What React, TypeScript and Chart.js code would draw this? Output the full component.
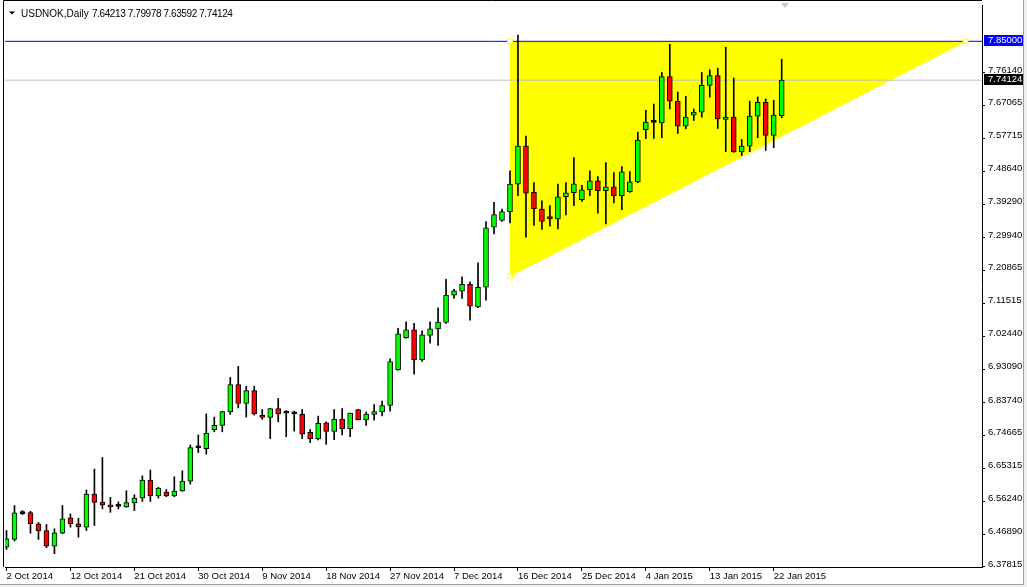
import { useEffect, useRef } from 'react';
import { Chart, registerables } from 'chart.js';

Chart.register(...registerables);

// ---- data ----
const symbolTitle = 'USDNOK,Daily';
const lastBarText = '7.64213 7.79978 7.63592 7.74124';

const tickIndex = [0, 8, 16, 24, 32, 40, 48, 56, 64, 72, 80, 88, 96];
const tickDates = [
  '2 Oct 2014', '12 Oct 2014', '21 Oct 2014', '30 Oct 2014', '9 Nov 2014', '18 Nov 2014',
  '27 Nov 2014', '7 Dec 2014', '16 Dec 2014', '25 Dec 2014', '4 Jan 2015', '13 Jan 2015', '22 Jan 2015',
];

const priceTicks = [
  7.7614, 7.67065, 7.57715, 7.4864, 7.3929, 7.2994, 7.20865, 7.11515,
  7.0244, 6.9309, 6.8374, 6.74665, 6.65315, 6.5624, 6.4689, 6.37815,
];

const opens = [
  6.4338, 6.4553, 6.5276, 6.5304, 6.4990, 6.4802, 6.4366, 6.4727, 6.5155, 6.4990,
  6.4895, 6.5824, 6.5600, 6.5519, 6.5476, 6.5463, 6.5575, 6.5712, 6.6214, 6.5768,
  6.5881, 6.5768, 6.5909, 6.6186, 6.7119, 6.7093, 6.7622, 6.7745, 6.8123, 6.8888,
  6.8359, 6.8720, 6.8025, 6.7969, 6.8219, 6.8089, 6.8073, 6.8053, 6.7552, 6.7365,
  6.7818, 6.7577, 6.7913, 6.7650, 6.8190, 6.7902, 6.8053, 6.8123, 6.8302, 6.9305,
  7.0204, 7.0419, 6.9582, 7.0268, 7.0447, 7.0628, 7.1393, 7.1505, 7.1698, 7.1065,
  7.1614, 7.3294, 7.3482, 7.3731, 7.4501, 7.5567, 7.4268, 7.3804, 7.3591, 7.3526,
  7.4148, 7.4260, 7.4064, 7.4344, 7.4593, 7.4316, 7.4428, 7.4176, 7.4288, 7.4565,
  7.6029, 7.6229, 7.6217, 7.7516, 7.6822, 7.6125, 7.6433, 7.6514, 7.7267, 7.7544,
  7.6310, 7.6377, 7.5402, 7.5567, 7.6405, 7.6794, 7.5864, 7.64213,
];
const highs = [
  6.4802, 6.5500, 6.5360, 6.5340, 6.5027, 6.4971, 6.4850, 6.5500, 6.5267, 6.5144,
  6.5937, 6.6522, 6.6844, 6.5729, 6.5600, 6.5917, 6.5805, 6.6334, 6.6494, 6.6010,
  6.5953, 6.6306, 6.6474, 6.7196, 6.7477, 6.8067, 6.7978, 6.8143, 6.9089, 6.9397,
  6.8840, 6.8840, 6.8190, 6.8223, 6.8499, 6.8162, 6.8143, 6.8190, 6.7633, 6.8006,
  6.7846, 6.8190, 6.8219, 6.8093, 6.8193, 6.8115, 6.8331, 6.8423, 6.9610, 7.0464,
  7.0648, 7.0600, 7.0391, 7.0648, 7.1040, 7.1838, 7.1558, 7.1902, 7.1762, 7.2300,
  7.3454, 7.3991, 7.3804, 7.4873, 7.8675, 7.5848, 7.4545, 7.4036, 7.3899, 7.4501,
  7.4545, 7.5243, 7.4464, 7.4873, 7.4713, 7.5103, 7.4826, 7.4994, 7.4854, 7.5960,
  7.6570, 7.6746, 7.7628, 7.8417, 7.7079, 7.6962, 7.6606, 7.7628, 7.7701, 7.7749,
  7.8333, 7.7472, 7.5752, 7.6822, 7.6942, 7.6886, 7.6850, 7.79978,
];
const lows = [
  6.4273, 6.4506, 6.5248, 6.4727, 6.4553, 6.4321, 6.4153, 6.4710, 6.4895, 6.4615,
  6.4802, 6.4943, 6.5407, 6.5312, 6.5407, 6.5452, 6.5360, 6.5617, 6.5617, 6.5712,
  6.5749, 6.5749, 6.5898, 6.6102, 6.6984, 6.6939, 6.7566, 6.7566, 6.8053, 6.8235,
  6.7978, 6.8034, 6.7913, 6.7373, 6.7846, 6.7429, 6.7586, 6.7373, 6.7261, 6.7337,
  6.7216, 6.7345, 6.7477, 6.7429, 6.7896, 6.7745, 6.7894, 6.8014, 6.8143, 6.9285,
  7.0184, 6.9182, 6.9537, 7.0047, 6.9983, 7.0600, 7.1298, 7.1298, 7.0695, 7.1040,
  7.1253, 7.3106, 7.3454, 7.3414, 7.4176, 7.3017, 7.3342, 7.3230, 7.3322, 7.3246,
  7.3636, 7.3899, 7.4019, 7.4176, 7.3691, 7.3386, 7.3972, 7.3787, 7.4268, 7.4545,
  7.5772, 7.5780, 7.5800, 7.6606, 7.5920, 7.6049, 7.6282, 7.6377, 7.6934, 7.6057,
  7.5408, 7.5392, 7.5304, 7.5408, 7.5800, 7.5444, 7.5520, 7.63592,
];
const closes = [
  6.4570, 6.5295, 6.5290, 6.4990, 6.4794, 6.4366, 6.4738, 6.5127, 6.4990, 6.4906,
  6.5824, 6.5589, 6.5519, 6.5463, 6.5481, 6.5581, 6.5712, 6.6214, 6.5777, 6.5993,
  6.5768, 6.5909, 6.6186, 6.7121, 6.7124, 6.7524, 6.7745, 6.8134, 6.8888, 6.8359,
  6.8720, 6.8067, 6.7969, 6.8219, 6.8067, 6.8085, 6.8068, 6.7496, 6.7373, 6.7801,
  6.7577, 6.7913, 6.7650, 6.8087, 6.7902, 6.8062, 6.8134, 6.8302, 6.9529, 7.0307,
  7.0419, 6.9582, 7.0279, 7.0447, 7.0639, 7.1393, 7.1513, 7.1698, 7.1085, 7.1614,
  7.3274, 7.3647, 7.3731, 7.4501, 7.5567, 7.4249, 7.3804, 7.3454, 7.3526, 7.4148,
  7.4260, 7.4512, 7.4344, 7.4593, 7.4316, 7.4428, 7.4176, 7.4845, 7.4565, 7.5735,
  7.6237, 7.6237, 7.7516, 7.6822, 7.6125, 7.6377, 7.6522, 7.7267, 7.7544, 7.6329,
  7.6377, 7.5402, 7.5567, 7.6405, 7.6794, 7.5864, 7.6433, 7.74124,
];

const resistanceLevel = 7.85;
const bidLevel = 7.74124;
const triangleX = [63, 120];
const triangleLowerY = [7.1922, 7.85];

// ---- view ----
const X_MIN = -0.1875;
const X_MAX = 122.0625;
const Y_MIN = 6.378;
const Y_MAX = 7.9517;
const FONT = '"Liberation Sans", Arial, sans-serif';

const mt4Plugin = {
  id: 'mt4Decor',
  beforeDraw(chart: any) {
    const ctx = chart.ctx;
    ctx.save();
    ctx.fillStyle = '#ffffff';
    ctx.fillRect(0, 0, chart.width, chart.height);
    ctx.fillStyle = '#f0f0f0';
    ctx.fillRect(1024, 0, 3, chart.height);
    ctx.fillRect(0, 585, chart.width, 2);
    ctx.strokeStyle = '#a0a0a0';
    ctx.lineWidth = 1;
    ctx.beginPath();
    ctx.moveTo(1023.5, 0);
    ctx.lineTo(1023.5, 584.5);
    ctx.lineTo(0, 584.5);
    ctx.stroke();
    ctx.restore();
  },
  afterDraw(chart: any) {
    const { ctx, chartArea } = chart;
    const y = chart.scales.y;
    ctx.save();
    // frame left/top
    ctx.strokeStyle = '#000';
    ctx.lineWidth = 1;
    ctx.beginPath();
    ctx.moveTo(3.5, chartArea.bottom);
    ctx.lineTo(3.5, 0.5);
    ctx.lineTo(chartArea.right, 0.5);
    ctx.stroke();

    // header
    ctx.fillStyle = '#000';
    ctx.beginPath();
    ctx.moveTo(9, 11.5);
    ctx.lineTo(15, 11.5);
    ctx.lineTo(12, 14.5);
    ctx.closePath();
    ctx.fill();
    ctx.font = '10px ' + FONT;
    ctx.textBaseline = 'alphabetic';
    ctx.textAlign = 'left';
    ctx.fillText(symbolTitle, 21, 17);
    try { (ctx as any).letterSpacing = '-0.4px'; } catch (e) { /* ignore */ }
    ctx.fillText(lastBarText, 92, 17);
    try { (ctx as any).letterSpacing = '0px'; } catch (e) { /* ignore */ }

    // chart shift marker
    ctx.fillStyle = '#c8c8c8';
    ctx.beginPath();
    ctx.moveTo(781, 3);
    ctx.lineTo(789, 3);
    ctx.lineTo(785, 8);
    ctx.closePath();
    ctx.fill();

    // price labels on axis
    ctx.font = '9.5px ' + FONT;
    ctx.textBaseline = 'middle';
    const boxes: [number, string][] = [
      [resistanceLevel, '#0000ff'],
      [bidLevel, '#000000'],
    ];
    boxes.forEach(([v, color]) => {
      const py = Math.floor(y.getPixelForValue(v));
      ctx.fillStyle = color;
      ctx.fillRect(984, py - 6, 39, 11);
      ctx.fillStyle = '#ffffff';
      ctx.fillText(v.toFixed(5), 988, py - 0.5);
    });
    ctx.restore();
  },
};

export default function App() {
  const canvasRef = useRef<HTMLCanvasElement | null>(null);

  useEffect(() => {
    document.body.style.margin = '0';
    const canvas = canvasRef.current;
    if (!canvas) return;

    const bodyColors = opens.map((o, i) => {
      const c = closes[i];
      if (Math.abs(c - o) < 0.0015) return '#000000';
      return c >= o ? '#00ff00' : '#ff0000';
    });

    const chart = new Chart(canvas, {
      type: 'bar',
      data: {
        datasets: [
          {
            type: 'bar',
            label: 'body',
            data: opens.map((o, i) => ({ x: i, y: [o, closes[i]] })) as any,
            backgroundColor: bodyColors,
            borderColor: '#000000',
            borderWidth: 1,
            borderSkipped: false,
            barThickness: 5,
            grouped: false,
            minBarLength: 2,
            order: 1,
          } as any,
          {
            type: 'bar',
            label: 'wick',
            data: lows.map((l, i) => ({ x: i, y: [l, highs[i]] })) as any,
            backgroundColor: '#000000',
            borderWidth: 0,
            barThickness: 1,
            grouped: false,
            order: 2,
          } as any,
          {
            type: 'line',
            label: 'vertices',
            data: [
              { x: triangleX[0], y: resistanceLevel },
              { x: triangleX[1], y: resistanceLevel },
              { x: triangleX[0], y: triangleLowerY[0] },
            ],
            showLine: false,
            pointStyle: 'rect',
            pointRadius: 3.5,
            pointBorderColor: '#ffff00',
            pointBackgroundColor: '#ffffff',
            pointBorderWidth: 1,
            order: 3,
          } as any,
          {
            type: 'line',
            label: 'resistance',
            data: [
              { x: X_MIN, y: resistanceLevel },
              { x: X_MAX, y: resistanceLevel },
            ],
            borderColor: '#0000ff',
            borderWidth: 1,
            pointRadius: 0,
            fill: false,
            order: 4,
          } as any,
          {
            type: 'line',
            label: 'bid',
            data: [
              { x: X_MIN, y: bidLevel },
              { x: X_MAX, y: bidLevel },
            ],
            borderColor: '#c0c0c0',
            borderWidth: 1,
            pointRadius: 0,
            fill: false,
            order: 4,
          } as any,
          {
            type: 'line',
            label: 'triangle',
            data: triangleX.map((x, i) => ({ x, y: triangleLowerY[i] })),
            borderColor: '#ffff00',
            borderWidth: 1,
            backgroundColor: '#ffff00',
            pointRadius: 0,
            fill: { value: resistanceLevel },
            order: 5,
          } as any,
        ],
      },
      options: {
        responsive: false,
        animation: false,
        devicePixelRatio: 1,
        layout: { padding: { left: 4, top: 2, right: 0, bottom: 0 } },
        plugins: {
          legend: { display: false },
          tooltip: { enabled: false },
          title: { display: false },
        },
        scales: {
          x: {
            type: 'linear',
            position: 'bottom',
            min: X_MIN,
            max: X_MAX,
            bounds: 'data',
            offset: false,
            grid: {
              display: true,
              drawOnChartArea: false,
              drawTicks: true,
              tickLength: 4,
              color: '#000000',
              offset: false,
            },
            border: { display: true, color: '#000000', width: 1 },
            afterBuildTicks: (scale: any) => {
              scale.ticks = tickIndex.map((v) => ({ value: v }));
            },
            afterFit: (scale: any) => {
              scale.height = 20;
              scale.paddingLeft = 0;
              scale.paddingRight = 0;
            },
            ticks: {
              autoSkip: false,
              maxRotation: 0,
              minRotation: 0,
              align: 'start',
              padding: 0,
              color: '#000000',
              font: { family: FONT, size: 9.5 },
              callback: (_v: any, index: number) => tickDates[index],
            },
          } as any,
          y: {
            type: 'linear',
            position: 'right',
            min: Y_MIN,
            max: Y_MAX,
            bounds: 'data',
            grid: {
              display: true,
              drawOnChartArea: false,
              drawTicks: true,
              tickLength: 3,
              color: '#000000',
            },
            border: { display: true, color: '#000000', width: 1 },
            afterBuildTicks: (scale: any) => {
              scale.ticks = priceTicks.map((v) => ({ value: v }));
            },
            afterFit: (scale: any) => {
              scale.width = 45;
              scale.paddingTop = 0;
              scale.paddingBottom = 0;
            },
            ticks: {
              autoSkip: false,
              padding: 3,
              labelOffset: -3,
              color: '#000000',
              font: { family: FONT, size: 9.5 },
              callback: (v: any) => Number(v).toFixed(5),
            },
          } as any,
        },
      },
      plugins: [mt4Plugin],
    });

    return () => {
      chart.destroy();
    };
  }, []);

  return (
    <div style={{ width: 1027, height: 587, position: 'relative' }}>
      <canvas ref={canvasRef} width={1027} height={587} style={{ display: 'block' }} />
    </div>
  );
}
